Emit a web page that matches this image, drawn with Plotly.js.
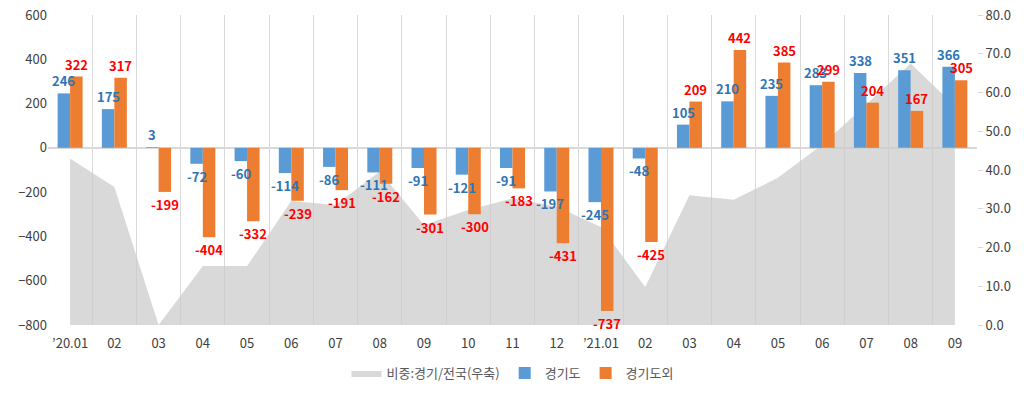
<!DOCTYPE html>
<html>
<head>
<meta charset="utf-8">
<script src="https://cdn.plot.ly/plotly-3.0.1.min.js"></script>
<style>html,body{margin:0;padding:0;background:#fff;}#chart{width:1024px;height:393px;}</style>
</head>
<body>
<div id="chart"></div>
<script>
const categories = ["’20.01","02","03","04","05","06","07","08","09","10","11","12","’21.01","02 ","03 ","04 ","05 ","06 ","07 ","08 ","09 "];
const tickLabels = ["’20.01","02","03","04","05","06","07","08","09","10","11","12","’21.01","02","03","04","05","06","07","08","09"];
const shareGyeonggi = [43.0,35.6,0.0,15.2,15.2,32.0,31.0,39.6,25.8,29.7,32.7,30.5,25.3,9.8,33.5,32.3,38.0,46.5,57.0,67.5,56.5];
const gyeonggi = [246,175,3,-72,-60,-114,-86,-111,-91,-121,-91,-197,-245,-48,105,210,235,283,338,351,366];
const outsideGyeonggi = [322,317,-199,-404,-332,-239,-191,-162,-301,-300,-183,-431,-737,-425,209,442,385,299,204,167,305];
const seriesNames = ["비중:경기/전국(우축)","경기도","경기도외"];

const font = "'Noto Sans CJK KR', 'Noto Sans', sans-serif";

const traces = [
  {
    type: 'scatter', mode: 'lines', name: seriesNames[0],
    x: categories, y: shareGyeonggi, yaxis: 'y',
    fill: 'tozeroy', fillcolor: 'rgba(204,204,204,0.74)',
    line: {width: 0, color: 'rgba(204,204,204,0.74)'},
    hoverinfo: 'skip'
  },
  {
    type: 'bar', name: seriesNames[1],
    x: categories, y: gyeonggi, yaxis: 'y2',
    marker: {color: '#5B9BD5'}
  },
  {
    type: 'bar', name: seriesNames[2],
    x: categories, y: outsideGyeonggi, yaxis: 'y2',
    marker: {color: '#ED7D31'}
  }
];

// category axis: annotation x given as the category's index
function labels(vals, shift, color) {
  return vals.map((v, i) => ({
    x: i, y: v, xref: 'x', yref: 'y2',
    text: String(v), showarrow: false,
    xshift: shift, yshift: v >= 0 ? 1 : -1,
    yanchor: v >= 0 ? 'bottom' : 'top', xanchor: 'center',
    font: {family: font, size: 13, color: color, weight: 'bold'}
  }));
}

const layout = {
  width: 1024, height: 393,
  margin: {l: 48, r: 47, t: 15, b: 68, autoexpand: false},
  paper_bgcolor: '#fff', plot_bgcolor: '#fff',
  font: {family: font, size: 13, color: '#404040'},
  barmode: 'group', bargap: 0.435, bargroupgap: 0,
  showlegend: true,
  legend: {orientation: 'h', x: 0.5, xanchor: 'center', y: -0.155, yanchor: 'middle',
           font: {size: 13, color: '#595959', family: font}, traceorder: 'normal'},
  annotations: labels(gyeonggi, -6.25, '#2E75B6').concat(labels(outsideGyeonggi, 6.25, '#FF0000')),
  xaxis: {
    type: 'category', categoryorder: 'array', categoryarray: categories,
    tickvals: categories, ticktext: tickLabels,
    tickson: 'boundaries', showgrid: true, gridcolor: '#D9D9D9', gridwidth: 1,
    ticks: '', showline: false, zeroline: false, ticklabelstandoff: 9,
    tickfont: {size: 13, color: '#404040', family: font}
  },
  yaxis: {
    side: 'right', range: [0, 80], dtick: 10, tickformat: '.1f',
    showgrid: false, zeroline: false, showline: false,
    ticks: 'outside', ticklen: 5, tickcolor: '#D9D9D9',
    tickfont: {size: 13, color: '#404040', family: font}
  },
  yaxis2: {
    overlaying: 'y', side: 'left', range: [-800, 600], dtick: 200,
    showgrid: false, zeroline: true, zerolinecolor: '#D9D9D9', zerolinewidth: 1.5,
    showline: false, ticks: '',
    tickfont: {size: 13, color: '#404040', family: font}
  }
};

Plotly.newPlot('chart', traces, layout, {displayModeBar: false, staticPlot: true});
</script>
</body>
</html>
